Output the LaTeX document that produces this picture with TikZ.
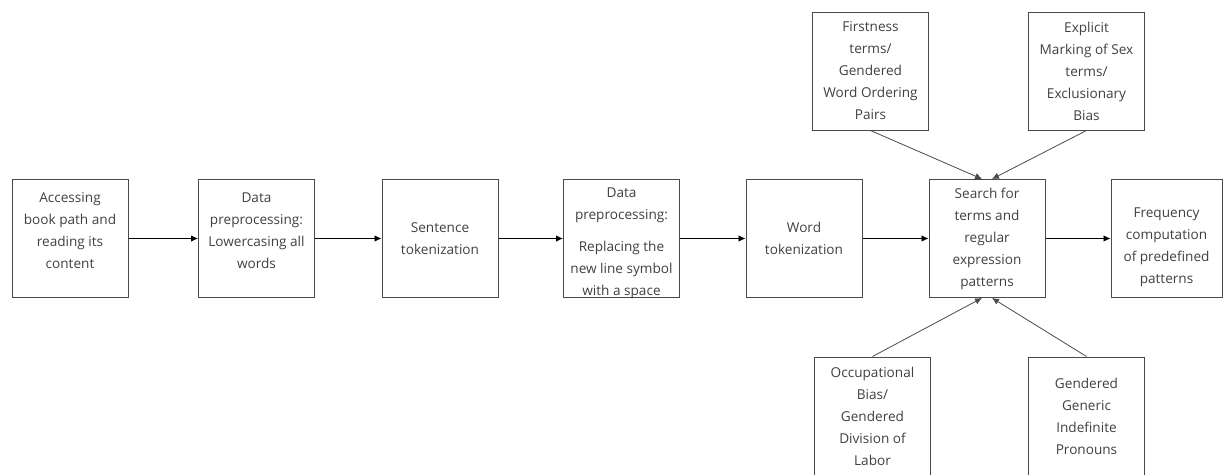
\documentclass[tikz,border=0pt]{standalone}
\usepackage{fontspec}
\setmainfont{Open Sans}
\usetikzlibrary{arrows.meta}
\definecolor{boxgray}{HTML}{4A4A4A}
\definecolor{txtgray}{HTML}{404040}

\begin{document}
\begin{tikzpicture}[x=1pt, y=-1pt,
  box/.style={draw=boxgray, line width=1pt, minimum width=116pt, minimum height=118pt,
    inner sep=0pt, align=center, text=txtgray, font=\fontsize{13.6}{22}\selectfont},
  flow/.style={draw=black, line width=0.8pt, -{Latex[length=7pt,width=6.5pt]}},
  feed/.style={draw=boxgray, line width=0.8pt, -{Latex[length=7pt,width=6.5pt]}}]
\useasboundingbox (0,0) rectangle (1223,474);
\node[box] (read) at (70,238.5) {Accessing\\book path and\\reading its\\content\\[-6pt]\mbox{}};
\node[box] (lower) at (256.5,238.5) {Data\\preprocessing:\\Lowercasing all\\words\\[-6pt]\mbox{}};
\node[box] (sent) at (440,238.5) {Sentence\\tokenization};
\node[box] (newline) at (621.5,238.5) {\raisebox{-8pt}[0pt][0pt]{\parbox[c]{116pt}{\centering
  Data\\preprocessing:\\[10pt]Replacing the\\new line symbol\\with a space}}};
\node[box] (word) at (804,238.5) {Word\\tokenization};
\node[box] (search) at (987,238.5) {Search for\\terms and\\regular\\expression\\patterns};
\node[box, minimum width=111pt] (freq) at (1166.5,238.5) {\rule{0pt}{28pt}Frequency\\computation\\of predefined\\patterns};
\node[box] (first) at (870.5,71) {Firstness\\terms/\\Gendered\\Word Ordering\\Pairs};
\node[box] (expl) at (1086.5,71) {Explicit\\Marking of Sex\\terms/\\Exclusionary\\Bias};
\node[box] (occ) at (872.5,416) {Occupational\\Bias/\\Gendered\\Division of\\Labor};
\node[box] (pron) at (1086.5,416) {Gendered\\Generic\\Indefinite\\Pronouns};
\foreach \a/\b in {read/lower, lower/sent, sent/newline, newline/word, word/search, search/freq}
  \draw[flow] (\a) -- (\b);
\draw[feed] (first.south) -- ([xshift=-5pt]search.north);
\draw[feed] (expl.south) -- ([xshift=5pt]search.north);
\draw[feed] (occ.north) -- ([xshift=-5pt]search.south);
\draw[feed] (pron.north) -- ([xshift=5pt]search.south);
\end{tikzpicture}
\end{document}
